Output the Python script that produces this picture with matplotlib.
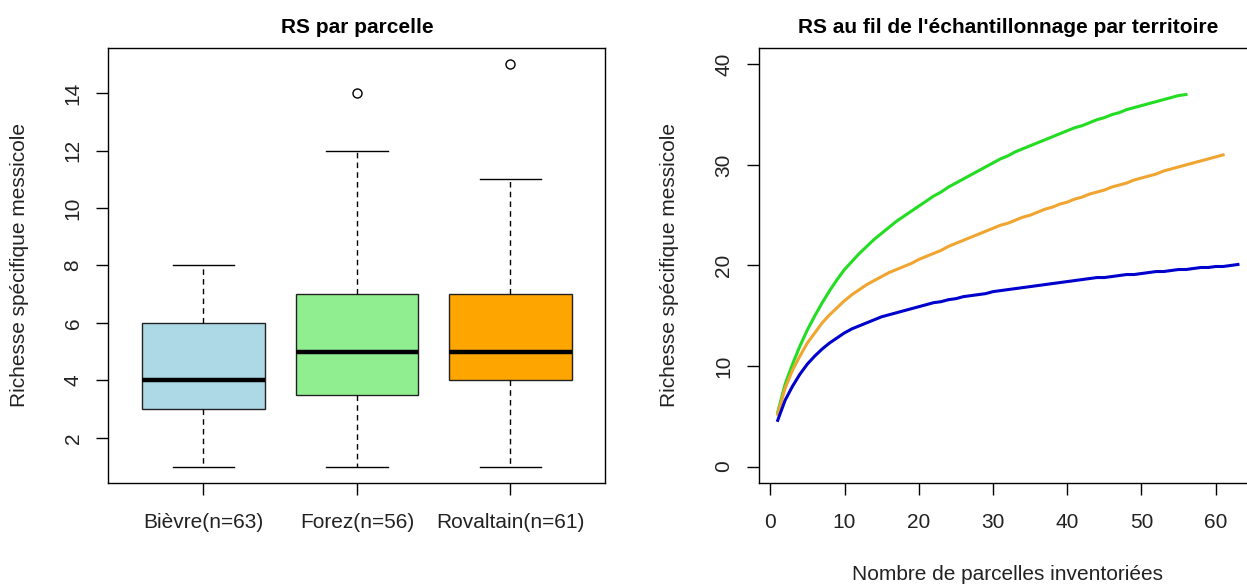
import numpy as np
import matplotlib
matplotlib.use("Agg")
import matplotlib.pyplot as plt

plt.rcParams['font.family'] = ['Liberation Sans', 'DejaVu Sans']

# boxplot par parcelle
groupes = ["Bièvre(n=63)", "Forez(n=56)", "Rovaltain(n=61)"]
mins = [1, 1, 1]
q1 = [3, 3.5, 4]
medianes = [4, 5, 5]
q3 = [6, 7, 7]
maxs = [8, 12, 11]
outliers = [[], [14], [15]]
couleurs_box = ["#ADD8E6", "#90EE90", "#FFA500"]

# courbes d'accumulation
forez = [5.4, 8.2, 10.2, 12.0, 13.6, 15.0, 16.3, 17.5, 18.6, 19.6,
         20.4, 21.2, 21.9, 22.6, 23.2, 23.8, 24.4, 24.9, 25.4, 25.9,
         26.4, 26.9, 27.3, 27.8, 28.2, 28.6, 29.0, 29.4, 29.8, 30.2,
         30.6, 30.9, 31.3, 31.6, 31.9, 32.2, 32.5, 32.8, 33.1, 33.4,
         33.7, 33.9, 34.2, 34.5, 34.7, 35.0, 35.2, 35.5, 35.7, 35.9,
         36.1, 36.3, 36.5, 36.7, 36.9, 37.0]
rovaltain = [5.2, 7.8, 9.6, 11.0, 12.3, 13.3, 14.3, 15.1, 15.8, 16.5,
             17.1, 17.6, 18.1, 18.5, 18.9, 19.3, 19.6, 19.9, 20.2, 20.6,
             20.9, 21.2, 21.5, 21.9, 22.2, 22.5, 22.8, 23.1, 23.4, 23.7,
             24.0, 24.2, 24.5, 24.8, 25.0, 25.3, 25.6, 25.8, 26.1, 26.3,
             26.6, 26.8, 27.1, 27.3, 27.5, 27.8, 28.0, 28.2, 28.5, 28.7,
             28.9, 29.1, 29.4, 29.6, 29.8, 30.0, 30.2, 30.4, 30.6, 30.8,
             31.0]
bievre = [4.6, 6.6, 8.0, 9.2, 10.2, 11.0, 11.7, 12.3, 12.8, 13.3,
          13.7, 14.0, 14.3, 14.6, 14.9, 15.1, 15.3, 15.5, 15.7, 15.9,
          16.1, 16.3, 16.4, 16.6, 16.7, 16.9, 17.0, 17.1, 17.2, 17.4,
          17.5, 17.6, 17.7, 17.8, 17.9, 18.0, 18.1, 18.2, 18.3, 18.4,
          18.5, 18.6, 18.7, 18.8, 18.8, 18.9, 19.0, 19.1, 19.1, 19.2,
          19.3, 19.4, 19.4, 19.5, 19.6, 19.6, 19.7, 19.8, 19.8, 19.9,
          19.9, 20.0, 20.1]
couleurs_lignes = ["#22DD22", "#F0A530", "#0000CD"]

fs = 15
fig = plt.figure(figsize=(12.47, 5.84), dpi=100)
ax1 = fig.add_axes([0.0869, 0.1735, 0.3986, 0.7438])
ax2 = fig.add_axes([0.6089, 0.1735, 0.3986, 0.7438])

stats = []
for i in range(3):
    stats.append(dict(label=groupes[i], whislo=mins[i], q1=q1[i], med=medianes[i],
                      q3=q3[i], whishi=maxs[i], fliers=outliers[i]))
bp = ax1.bxp(stats, positions=[1, 2, 3], widths=0.8, patch_artist=True,
             capwidths=0.4,
             boxprops=dict(edgecolor="#222222", linewidth=1.0),
             medianprops=dict(color="black", linewidth=3.2, solid_capstyle="butt"),
             whiskerprops=dict(color="black", linewidth=1.0, linestyle=(0, (4, 3))),
             capprops=dict(color="black", linewidth=1.0),
             flierprops=dict(marker="o", markerfacecolor="none", markeredgecolor="black",
                             markersize=6.5, markeredgewidth=1.0))
for patch, c in zip(bp["boxes"], couleurs_box):
    patch.set_facecolor(c)

ax1.set_xlim(0.38, 3.62)
ax1.set_ylim(0.44, 15.56)
ax1.set_yticks([2, 4, 6, 8, 10, 12, 14])
ax1.set_title("RS par parcelle", fontsize=fs, fontweight="bold", pad=11)
ax1.set_ylabel("Richesse spécifique messicole", fontsize=fs, color="#222222")
ax1.yaxis.set_label_coords(-0.16, 0.5)

for serie, c in zip([forez, rovaltain, bievre], couleurs_lignes):
    x = np.arange(1, len(serie) + 1)
    ax2.plot(x, serie, color=c, linewidth=2.2)
ax2.set_xlim(-1.48, 65.48)
ax2.set_ylim(-1.6, 41.6)
ax2.set_xticks([0, 10, 20, 30, 40, 50, 60])
ax2.set_yticks([0, 10, 20, 30, 40])
ax2.set_title("RS au fil de l'échantillonnage par territoire", fontsize=fs,
              fontweight="bold", pad=11)
ax2.set_ylabel("Richesse spécifique messicole", fontsize=fs, color="#222222")
ax2.yaxis.set_label_coords(-0.162, 0.5)
ax2.set_xlabel("Nombre de parcelles inventoriées", fontsize=fs, color="#222222")
ax2.xaxis.set_label_coords(0.499, -0.19)

for ax in (ax1, ax2):
    for s in ax.spines.values():
        s.set_linewidth(1.0)
        s.set_color("black")
    ax.tick_params(axis="both", length=8.6, width=1.0, labelsize=fs,
                   labelcolor="#222222", pad=10)
    ax.tick_params(axis="x", pad=13)
    for lab in ax.get_yticklabels():
        lab.set_rotation(90)
        lab.set_va("center")

fig.savefig("out.png", dpi=100)
